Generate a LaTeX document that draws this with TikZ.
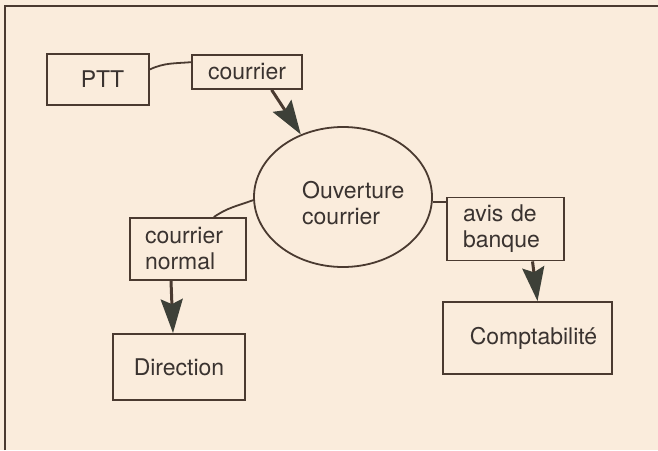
\documentclass[tikz,border=0pt]{standalone}
\usepackage{fontspec}
\setmainfont{TeX Gyre Heros}
\usetikzlibrary{shapes.geometric,arrows.meta,calc}
\definecolor{paper}{HTML}{FAECDC}
\definecolor{ink}{HTML}{4A3A30}
\definecolor{txtc}{HTML}{3A3330}
\definecolor{headc}{HTML}{3D4038}
\begin{document}
\begin{tikzpicture}[x=1pt,y=-1pt,
  every node/.style={font={\fontsize{23}{26}\selectfont},text=txtc},
  boxn/.style={draw=ink,line width=1.8pt,rectangle,inner sep=0pt},
  link/.style={draw=ink,line width=1.8pt},
  flow/.style={draw=ink,line width=3pt,-{Stealth[length=34pt,width=22pt,inset=5pt,color=headc]}}]
\fill[paper] (0,0) rectangle (658,450);
\useasboundingbox (0,0) rectangle (658,450);
\draw[ink,line width=1.5pt] (5,450) -- (5,6) -- (658,6);

\node[boxn,minimum width=102pt,minimum height=51pt] (ptt) at (98,79.5) {\hspace*{9pt}PTT};
\node[boxn,minimum width=110pt,minimum height=34pt] (cour) at (247,72) {courrier};
\node[draw=ink,line width=1.8pt,ellipse,minimum width=178pt,minimum height=140pt,inner sep=0pt] (ouv) at (343,197) {};
\node[inner sep=0pt,align=left,anchor=west] (ouvt) at (302,203) {Ouverture\\courrier};
\node[boxn,minimum width=116pt,minimum height=62pt,text width=86pt,align=left,inner xsep=15pt] (cn) at (188,249) {courrier\\normal};
\node[boxn,minimum width=117pt,minimum height=63pt,text width=85pt,align=left,inner xsep=16pt] (avis) at (505.5,229) {avis de\\banque};
\node[boxn,minimum width=132pt,minimum height=66pt] (dir) at (179,367) {Direction};
\node[boxn,minimum width=169pt,minimum height=72pt] (compta) at (527.5,338) {\hspace*{12pt}Comptabilité};

\draw[link] (ptt.11) to[out=25,in=185] (cour.170);
\draw[link] (ouv.-3) -- (avis.west |- ouv.-3);
\draw[link] (ouv.182) to[out=200,in=35] (cn.51);

\draw[flow] (cour.-36) -- (ouv.124);
\draw[flow] ($(cn.south)+(-17,0)$) -- ($(dir.north)+(-6,0)$);
\draw[flow] ($(avis.south)+(27,0)$) -- ($(compta.north)+(10,0)$);
\end{tikzpicture}
\end{document}
